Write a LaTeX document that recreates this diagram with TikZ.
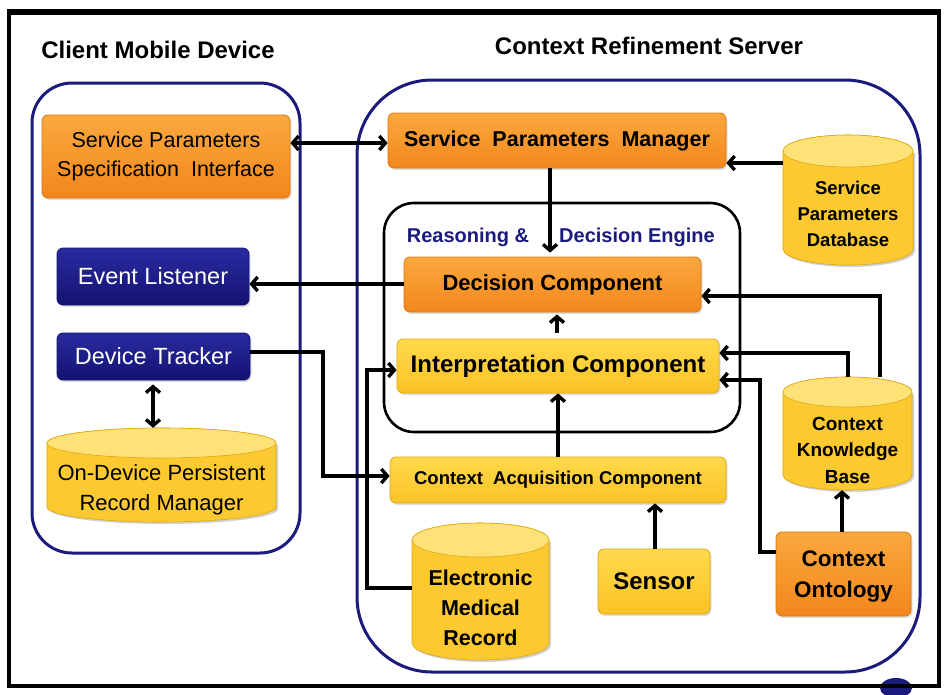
\documentclass[tikz,border=0pt]{standalone}
\usepackage{fontspec}
\setmainfont{Liberation Sans}
\usetikzlibrary{arrows.meta,shadows,calc}
\definecolor{navy}{HTML}{1B1B7E}
\definecolor{navyT}{HTML}{2A2AA0}
\definecolor{navyB}{HTML}{131372}
\definecolor{orgT}{HTML}{FAA83E}
\definecolor{orgB}{HTML}{F2871C}
\definecolor{orgD}{HTML}{D9780F}
\definecolor{yelT}{HTML}{FFDA4C}
\definecolor{yelB}{HTML}{FBC225}
\definecolor{yelD}{HTML}{DDA812}
\definecolor{cylY}{HTML}{FCC930}
\definecolor{cylTop}{HTML}{FFE277}
\newcommand\myfs[2]{\fontsize{#1}{#2}\selectfont}
\newcommand\drawcyl[9]{%
  \pgfmathsetmacro\cylcx{(#2+#3)/2}%
  \pgfmathsetmacro\cylrx{(#3-#2)/2}%
  \pgfmathsetmacro\cylyt{#4+#6}%
  \pgfmathsetmacro\cylyb{#5-#6}%
  \pgfmathsetmacro\cylw{#3-#2}%
  \pgfmathsetmacro\cylh{#5-#4}%
  \fill[black,opacity=0.18] (#2+2,\cylyt+2) -- (#2+2,\cylyb+2) arc[start angle=180,end angle=360,x radius=\cylrx pt,y radius=#6 pt] -- (#3+2,\cylyt+2) -- cycle;
  \path[fill=cylY,draw=yelD,line width=0.6pt] (#2,\cylyt) -- (#2,\cylyb) arc[start angle=180,end angle=360,x radius=\cylrx pt,y radius=#6 pt] -- (#3,\cylyt) arc[start angle=0,end angle=180,x radius=\cylrx pt,y radius=#6 pt] -- cycle;
  \path[fill=cylTop,draw=yelD,line width=0.6pt] (\cylcx,\cylyt) ellipse[x radius=\cylrx pt,y radius=#6 pt];
  \node[inner sep=0pt,minimum width=\cylw pt,minimum height=\cylh pt] (#1) at (\cylcx,{(#4+#5)/2}) {};
  \node[align=center,inner sep=0pt,font=#7] (#1-t) at (\cylcx,{(\cylyt+#5)/2+#9}) {#8};
}
\tikzset{
  basebox/.style={rounded corners=6pt, line width=0.8pt, inner sep=0pt, align=center,
    drop shadow={opacity=0.25,shadow xshift=1.5pt,shadow yshift=-2pt}},
  obox/.style={basebox, draw=orgD, top color=orgT, bottom color=orgB, text=black},
  ybox/.style={basebox, draw=yelD, top color=yelT, bottom color=yelB, text=black},
  nbox/.style={basebox, draw=navyB, top color=navyT, bottom color=navyB, text=white},
  container/.style={draw=navy, line width=3pt},
  arr/.style={line width=3.4pt, -{Straight Barb[length=6pt,width=14pt]}},
  darr/.style={line width=3.4pt, {Straight Barb[length=6pt,width=14pt]}-{Straight Barb[length=6pt,width=14pt]}},
}
\begin{document}
\begin{tikzpicture}[x=1pt,y=-1pt]
\useasboundingbox (0,0) rectangle (947,694);
\fill[white] (0,0) rectangle (947,694);
% small navy bump at the bottom edge
\begin{scope}
\clip (0,0) rectangle (947,694);
\fill[navy] (896,688) ellipse[x radius=16pt,y radius=10pt];
\end{scope}
% outer frame
\draw[line width=4pt] (9,11) rectangle (939,686);
\draw[line width=2pt] (9,14) -- (939,14);

% titles
\node[font=\bfseries\myfs{24}{28}] (t1) at (158,50) {Client Mobile Device};
\node[font=\bfseries\myfs{24}{28}] (t2) at (649,46) {Context Refinement Server};

% containers
\draw[container, rounded corners=40pt] (32,83) rectangle (300,553);
\draw[container, rounded corners=75pt] (357,80) rectangle (920,672);
\draw[line width=2.6pt, rounded corners=30pt] (384,203) rectangle (740,432);
\node[text=navy, font=\bfseries\myfs{20}{24}] (re1) at (468,237) {Reasoning \&};
\node[text=navy, font=\bfseries\myfs{20}{24}] (re2) at (637,237) {Decision Engine};

% client nodes
\node[obox, minimum width=248pt, minimum height=83pt, font=\myfs{21.5}{29}] (SPSI) at (166,156.5)
  {\rule{0pt}{0pt}Service Parameters\\Specification\ \ Interface};
\node[nbox, minimum width=192pt, minimum height=57pt, font=\myfs{23.5}{28}] (EL) at (153,276.5)
  {Event Listener};
\node[nbox, minimum width=193pt, minimum height=47pt, font=\myfs{23.5}{28}] (DT) at (153.5,356.5)
  {Device Tracker};
\drawcyl{OnDev}{47}{276}{428}{522}{15}{\myfs{22}{30}}{On-Device Persistent\\Record Manager}{7}

% server nodes
\node[obox, minimum width=338pt, minimum height=55pt, font=\bfseries\myfs{21.5}{26}] (SPM) at (557,140.5)
  {Service~~Parameters~~Manager};
\node[obox, minimum width=297pt, minimum height=55pt, font=\bfseries\myfs{22}{26}] (DC) at (552.5,284.5)
  {Decision Component};
\node[ybox, minimum width=322pt, minimum height=54pt, font=\bfseries\myfs{24}{28}] (IC) at (558,366)
  {Interpretation Component};
\node[ybox, minimum width=336pt, minimum height=46pt, font=\bfseries\myfs{18.5}{22}] (CAC) at (558,480)
  {Context~~Acquisition Component};
\node[ybox, minimum width=112pt, minimum height=65pt, font=\bfseries\myfs{24}{28}] (SEN) at (654,581.5)
  {Sensor};
\node[obox, minimum width=135pt, minimum height=84pt, font=\bfseries\myfs{22.5}{31}, text depth=0pt] (CO) at (843.5,574)
  {Context\\Ontology};
\drawcyl{SPDB}{783}{913}{135}{265}{16}{\bfseries\myfs{18.5}{26}}{Service\\Parameters\\Database}{6}
\drawcyl{CKB}{783}{912}{377}{490}{15}{\bfseries\myfs{19}{26.5}}{Context\\Knowledge\\Base}{9}
\drawcyl{EMR}{412}{549}{523}{660}{17}{\bfseries\myfs{21.5}{30}}{Electronic\\Medical\\Record}{8}

% connectors
\draw[darr] (SPSI.east |- 0,143) -- (SPM.west |- 0,143);
\draw[arr] (SPDB.west |- 0,163) -- (SPM.east |- 0,163);
\draw[arr, shorten >=4pt] (SPM.south -| 550,0) -- (DC.north -| 550,0);
\draw[arr] (DC.west |- 0,284) -- (EL.east |- 0,284);
\draw[arr, shorten <=6pt, shorten >=2pt] (IC.north -| 557,0) -- (DC.south -| 557,0);
\draw[arr] (CKB.north -| 880,0) |- (DC.east |- 0,296);
\draw[arr] (CKB.north -| 848,0) |- (IC.east |- 0,353);
\draw[arr] (CO.west |- 0,552) -| (760,380) -- (IC.east |- 0,380);
\draw[arr] (CO.north -| 842,0) -- (CKB.south -| 842,0);
\draw[arr] (CAC.north -| 558,0) -- (IC.south -| 558,0);
\draw[arr] (SEN.north -| 655,0) -- (CAC.south -| 655,0);
\draw[arr] (DT.east |- 0,352) -| (323,476) -- (CAC.west |- 0,476);
\draw[arr] (EMR.west |- 0,588) -| (367,370) -- (IC.west |- 0,370);
\draw[darr, shorten <=4pt] (DT.south -| 153,0) -- (OnDev.north -| 153,0);
\end{tikzpicture}
\end{document}
